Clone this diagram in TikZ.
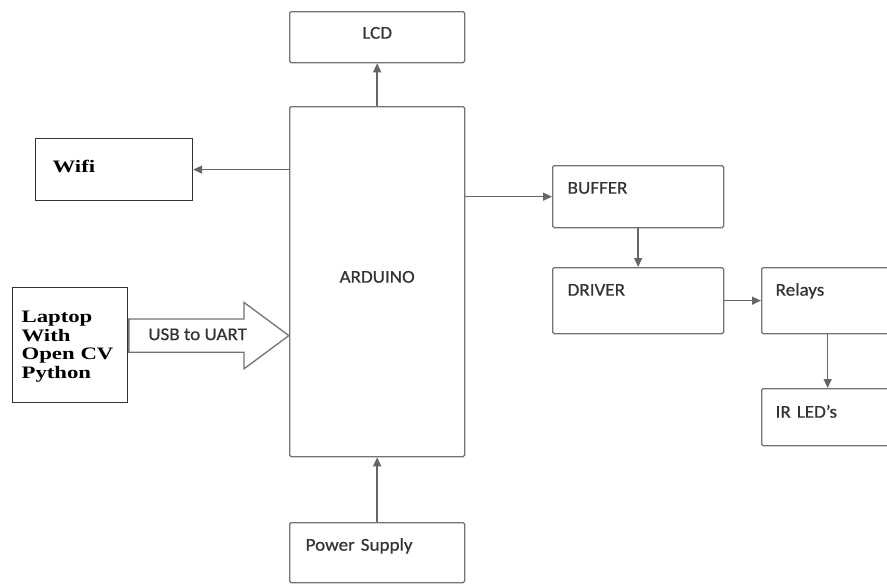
\documentclass[tikz,border=0pt]{standalone}
\usepackage{fontspec}
\usetikzlibrary{arrows.meta,shapes.arrows}
\newfontfamily\blkfont[FakeStretch=1.06,FakeBold=0.6]{Carlito}
\newfontfamily\pcfont[FakeStretch=1.3]{Liberation Serif}
\begin{document}
\begin{tikzpicture}[
        x=1pt, y=-1pt,
        >={Triangle[length=9pt,width=8pt]},
        blk/.style={
            draw=black!55,
            line width=1.3pt,
            rounded corners=1.5pt,
            anchor=north west,
            inner ysep=0pt,
            align=left,
            text=black!80,
            font=\blkfont\fontsize{18}{21}\selectfont
        },
        pcbox/.style={
            draw=black!80,
            line width=1.2pt,
            anchor=north west,
            inner ysep=0pt,
            align=left,
            font=\pcfont\bfseries\fontsize{17.5}{18.5}\selectfont
        },
        bigarrow/.style={
            single arrow,
            draw=black!55,
            line width=1.3pt,
            single arrow head extend=16.5pt,
            single arrow tip angle=73,
            minimum height=160pt,
            minimum width=65pt,
            text height=13pt,
            text depth=4pt,
            inner xsep=0pt,
            inner ysep=7.5pt,
            anchor=tail,
            text=black!80,
            font=\blkfont\fontsize{18}{21}\selectfont
        },
        arrow/.style={->, line width=1.4pt, draw=black!60}
    ]

    \useasboundingbox (0,0) rectangle (887,584);
    \clip (0,0) rectangle (887,584);

    \node[blk, align=center, text width=175pt, inner xsep=0pt, text height=27pt, text depth=24pt] (lcd) at (289,11) {LCD};
    \node[blk, align=center, text width=175pt, inner xsep=0pt, text height=176pt, text depth=174pt] (arduino) at (289,106) {ARDUINO};
    \node[blk, text width=143pt, inner xsep=16pt, text height=28pt, text depth=32pt] (power) at (289,522) {Power Supply};
    \node[pcbox, text width=123pt, inner xsep=17pt, text height=34pt, text depth=28pt] (wifi) at (35,138) {Wifi};
    \node[pcbox, text width=97pt, inner xsep=9pt, text height=35pt, text depth=80pt] (laptop) at (12,287) {Laptop\\With\\Open~CV\\Python};
    \node[blk, text width=141pt, inner xsep=15pt, text height=28pt, text depth=34pt] (buffer) at (552,165) {BUFFER};
    \node[blk, text width=141pt, inner xsep=15pt, text height=28pt, text depth=38pt] (driver) at (552,267) {DRIVER};
    \node[blk, text width=104pt, inner xsep=14pt, text height=28pt, text depth=38pt] (relays) at (761,267) {Relays};
    \node[blk, text width=104pt, inner xsep=14pt, text height=29pt, text depth=28pt] (irled) at (761,388) {IR LED’s};
    \node[bigarrow] (usb) at ([yshift=9.5pt]laptop.east) {USB to UART};

    \draw[arrow] (arduino.north) -- (lcd.south);
    \draw[arrow] (wifi.east -| arduino.west) -- (wifi.east);
    \draw[arrow] (arduino.east |- buffer.west) -- (buffer.west);
    \draw[arrow] (buffer.south) -- (driver.north);
    \draw[arrow] (driver.east) -- (relays.west);
    \draw[arrow] (relays.south) -- (irled.north);
    \draw[arrow] (power.north) -- (arduino.south);

    \end{tikzpicture}
\end{document}
